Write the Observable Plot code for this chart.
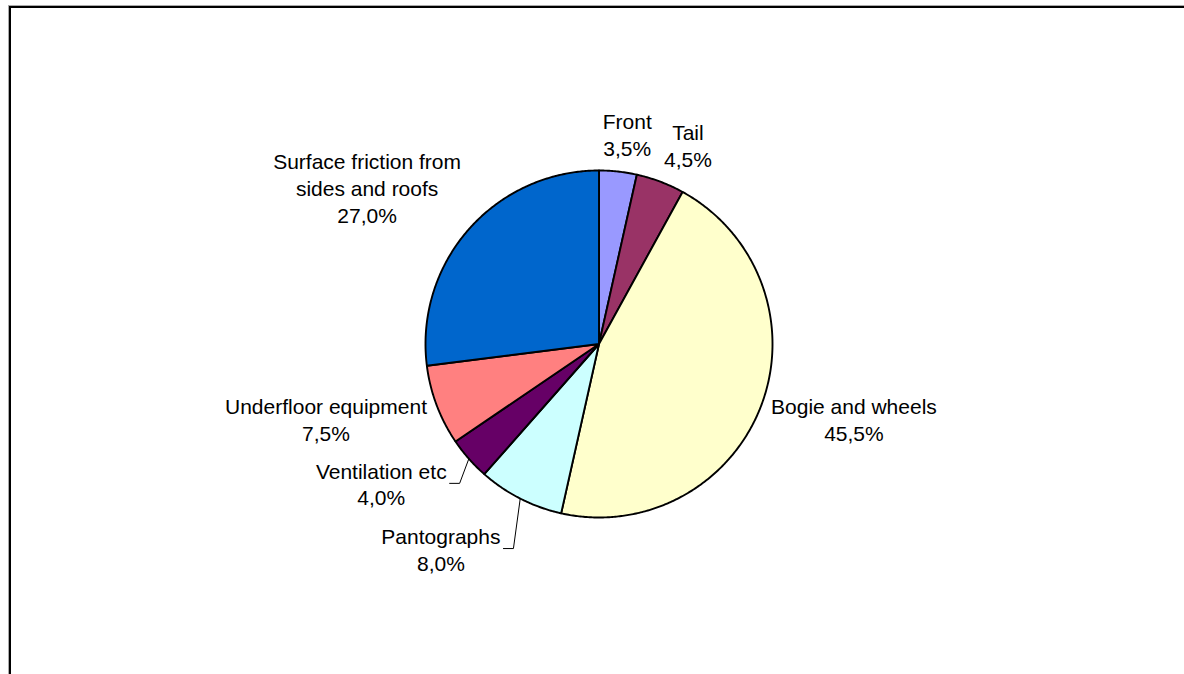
<!DOCTYPE html>
<html>
<head>
<meta charset="utf-8">
<script src="https://cdn.jsdelivr.net/npm/d3@7"></script>
<script src="https://cdn.jsdelivr.net/npm/@observablehq/plot@0.6"></script>
<style>
  html, body { margin: 0; padding: 0; background: #fff; overflow: hidden; }
  #wrap { position: relative; width: 1184px; height: 674px; }
  #frame { position: absolute; left: 9px; top: 6px; width: 3000px; height: 3000px;
           border-top: 2px solid #000; border-left: 2px solid #000;
           box-shadow: -1px -1px 0 #aaa; pointer-events: none; }
</style>
</head>
<body>
<div id="wrap"><div id="chart"></div><div id="frame"></div></div>
<script>
// ---- data ----
const categories = ["Front", "Tail", "Bogie and wheels", "Pantographs", "Ventilation etc", "Underfloor equipment", "Surface friction from sides and roofs"];
const values = [3.5, 4.5, 45.5, 8.0, 4.0, 7.5, 27.0];
const colors = ["#9999FF", "#993366", "#FFFFCC", "#CCFFFF", "#660066", "#FF8080", "#0066CC"];
const labelLines = [["Front"], ["Tail"], ["Bogie and wheels"], ["Pantographs"], ["Ventilation etc"], ["Underfloor equipment"], ["Surface friction from", "sides and roofs"]];

// ---- layout ----
const W = 1184, H = 674, CX = 598.5, CY = 343.5, R = 173.5;
const FONT = 21, LINE = 27;
const FONT_FAMILY = "'Liberation Sans', Arial, Helvetica, sans-serif";
const labelRadius = 1.06;
// labels that Excel moved out, with a leader line (elbow in polar terms)
const leaderLabels = {"Ventilation etc": {angleDeg: 225, r: 1.136}, "Pantographs": {angleDeg: 202.7, r: 1.278}};

const fmt = v => v.toFixed(1).replace(".", ",") + "%";
const ctx = document.createElement("canvas").getContext("2d");
ctx.font = `${FONT}px ${FONT_FAMILY}`;

const total = d3.sum(values);
let acc = 0;
const slices = categories.map((name, i) => {
  const a0 = acc / total * 2 * Math.PI;
  acc += values[i];
  const a1 = acc / total * 2 * Math.PI;
  return {name, value: values[i], color: colors[i], a0, a1, mid: (a0 + a1) / 2, lines: [...labelLines[i], fmt(values[i])]};
});

function arcPoints(s) {
  const n = Math.max(2, Math.ceil((s.a1 - s.a0) / (Math.PI / 360)));
  const pts = [{x: 0, y: 0}];
  for (let k = 0; k <= n; k++) {
    const a = s.a0 + (s.a1 - s.a0) * k / n;
    pts.push({x: Math.sin(a), y: Math.cos(a)});
  }
  return pts;
}

const clamp = v => Math.max(-1, Math.min(1, v));
const labels = [];
const leaders = [];
slices.forEach(s => {
  const wpx = d3.max(s.lines, l => ctx.measureText(l).width);
  const hpx = s.lines.length * LINE;
  const text = s.lines.join("\n");
  const sn = Math.sin(s.mid), cs = Math.cos(s.mid);
  const moved = leaderLabels[s.name];
  if (moved) {
    const a = moved.angleDeg * Math.PI / 180;
    const ex = moved.r * Math.sin(a), ey = moved.r * Math.cos(a);
    leaders.push({id: s.name, x: sn, y: cs}, {id: s.name, x: ex, y: ey}, {id: s.name, x: ex - 10 / R, y: ey});
    labels.push({text, x: ex - (13 + wpx / 2) / R, y: ey});
  } else {
    const ax = labelRadius * sn, ay = labelRadius * cs;
    labels.push({
      text,
      x: ax + clamp(3 * sn) * (wpx / 2) / R,
      y: ay + clamp((cs > 0 ? 1.3 : 1) * cs) * (hpx / 2) / R
    });
  }
});

const marks = [
  ...slices.map(s => Plot.line(arcPoints(s), {x: "x", y: "y", fill: s.color, stroke: "black", strokeWidth: 1.9, curve: "linear-closed", strokeLinejoin: "round"})),
  Plot.line(leaders, {x: "x", y: "y", z: "id", stroke: "black", strokeWidth: 1}),
  Plot.text(labels, {x: "x", y: "y", text: "text", fill: "black", fontSize: FONT, lineHeight: LINE / FONT, lineAnchor: "middle", textAnchor: "middle", fontFamily: FONT_FAMILY})
];

const chart = Plot.plot({
  width: W, height: H,
  margin: 0,
  style: {background: "transparent", fontFamily: FONT_FAMILY, fontSize: FONT + "px", color: "black"},
  x: {type: "linear", domain: [-CX / R, (W - CX) / R], range: [0, W], axis: null},
  y: {type: "linear", domain: [-(H - CY) / R, CY / R], range: [H, 0], axis: null},
  marks
});
document.getElementById("chart").appendChild(chart);
</script>
</body>
</html>
